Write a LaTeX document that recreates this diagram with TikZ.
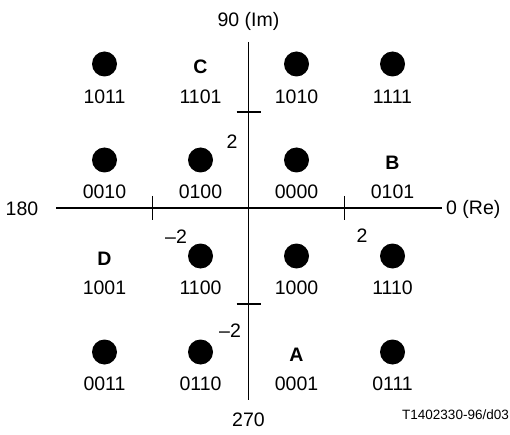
\documentclass[tikz,border=0pt]{standalone}
\usepackage{fontspec}
\setmainfont{Liberation Sans}
\begin{document}
\begin{tikzpicture}[x=1pt,y=-1pt,
  every node/.style={font=\fontsize{19.5}{23}\selectfont, inner sep=0pt},
  axisline/.style={line width=1.3pt},
  dotmark/.style={circle, fill=black, minimum size=25pt, inner sep=0pt},
  codelabel/.style={anchor=center},
  quadletter/.style={font=\fontsize{19.5}{23}\selectfont\bfseries}]
\useasboundingbox (0,0) rectangle (510,435);
% axes
\coordinate (xl) at (56,208);
\coordinate (xr) at (442,208);
\coordinate (yt) at (248.5,42);
\coordinate (yb) at (248.5,400);
\draw[axisline] (xl) -- (xr);
\draw[axisline] (yt) -- (yb);
% ticks
\coordinate (tx1a) at (152.5,196); \coordinate (tx1b) at (152.5,220);
\coordinate (tx2a) at (344.5,196); \coordinate (tx2b) at (344.5,220);
\coordinate (ty1a) at (236.5,112); \coordinate (ty1b) at (260.5,112);
\coordinate (ty2a) at (236.5,304); \coordinate (ty2b) at (260.5,304);
\draw[axisline] (tx1a) -- (tx1b);
\draw[axisline] (tx2a) -- (tx2b);
\draw[axisline] (ty1a) -- (ty1b);
\draw[axisline] (ty2a) -- (ty2b);
% axis labels
\node (im) at (248.5,21) {90 (Im)};
\node (low) at (248.5,420) {270};
\node (left) at (22,209) {180};
\node[anchor=west] (re) at (446,209) {0 (Re)};
\node[anchor=east, font=\fontsize{13.5}{16}\selectfont] (ref) at (509,415) {T1402330-96/d03};
% tick labels
\node (t2y) at (232,142) {2};
\node (tm2x) at (176,237) {\textendash 2};
\node (t2x) at (362,236) {2};
\node (tm2y) at (230,331) {\textendash 2};
% row 1
\node[dotmark] (d1011) at (104.5,64) {};
\node (l1011) at (104.5,97) {1011};
\node[quadletter] (C) at (200.5,67) {C};
\node (l1101) at (200.5,97) {1101};
\node[dotmark] (d1010) at (296.5,64) {};
\node (l1010) at (296.5,97) {1010};
\node[dotmark] (d1111) at (392.5,64) {};
\node (l1111) at (392.5,97) {1111};
% row 2
\node[dotmark] (d0010) at (104.5,160) {};
\node (l0010) at (104.5,192) {0010};
\node[dotmark] (d0100) at (200.5,160) {};
\node (l0100) at (200.5,192) {0100};
\node[dotmark] (d0000) at (296.5,160) {};
\node (l0000) at (296.5,192) {0000};
\node[quadletter] (B) at (392.5,163) {B};
\node (l0101) at (392.5,192) {0101};
% row 3
\node[quadletter] (D) at (104.5,259) {D};
\node (l1001) at (104.5,288) {1001};
\node[dotmark] (d1100) at (200.5,256) {};
\node (l1100) at (200.5,288) {1100};
\node[dotmark] (d1000) at (296.5,256) {};
\node (l1000) at (296.5,288) {1000};
\node[dotmark] (d1110) at (392.5,256) {};
\node (l1110) at (392.5,288) {1110};
% row 4
\node[dotmark] (d0011) at (104.5,352) {};
\node (l0011) at (104.5,384) {0011};
\node[dotmark] (d0110) at (200.5,352) {};
\node (l0110) at (200.5,384) {0110};
\node[quadletter] (A) at (296.5,355) {A};
\node (l0001) at (296.5,384) {0001};
\node[dotmark] (d0111) at (392.5,352) {};
\node (l0111) at (392.5,384) {0111};
\end{tikzpicture}
\end{document}
